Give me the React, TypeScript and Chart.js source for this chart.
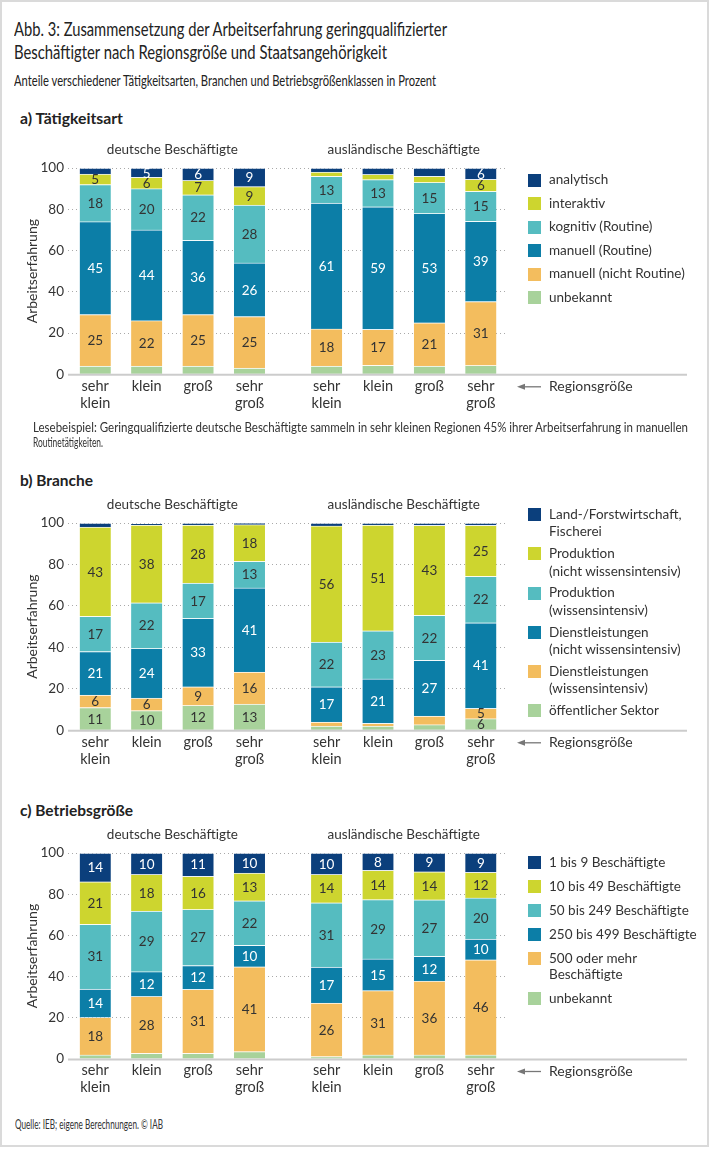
import React, { useEffect, useLayoutEffect, useRef } from "react";
import { Chart, registerables } from "chart.js";
Chart.register(...registerables);

const FONT = "Lato, 'Noto Sans', sans-serif";
const TEXT = "#333333";

// ---------- shared axis data ----------
const xPositions = [0, 1, 2, 3, 4.5, 5.5, 6.5, 7.5];
const regionLabels = [["sehr", "klein"], ["klein"], ["groß"], ["sehr", "groß"]];
const groupTitles = ["deutsche Beschäftigte", "ausländische Beschäftigte"];
const groupCenters = [1.5, 6];
const yTitle = "Arbeitserfahrung";
const axisNote = "Regionsgröße";

// ---------- palette ----------
const NAVY = "#0b3f7c";
const LIME = "#cdd52f";
const TURQ = "#55bcc0";
const BLUE = "#0c7ea7";
const ORANGE = "#f3bd5e";
const GREEN = "#a8d29b";

// ---------- panel a: Tätigkeitsart (bottom → top) ----------
const aSeries = [["unbekannt"], ["manuell (nicht Routine)"], ["manuell (Routine)"], ["kognitiv (Routine)"], ["interaktiv"], ["analytisch"]];
const aUnbekannt = [4, 4, 4, 3, 4, 4.4, 4, 4.3];
const aManuellNR = [25, 22, 25, 25, 18, 17.4, 21, 31];
const aManuellR = [45, 44, 36, 26, 61, 59.4, 53, 38.9];
const aKognitiv = [18, 20, 22, 28, 13, 13.2, 15, 14.5];
const aInteraktiv = [5, 5.5, 7, 9, 2, 2.5, 3, 5.8];
const aAnalytisch = [3, 4.5, 6, 9, 2, 3.1, 4, 5.5];

// ---------- panel b: Branche (bottom → top) ----------
const bSeries = [["öffentlicher Sektor"], ["Dienstleistungen", "(wissensintensiv)"], ["Dienstleistungen", "(nicht wissensintensiv)"], ["Produktion", "(wissensintensiv)"], ["Produktion", "(nicht wissensintensiv)"], ["Land-/Forstwirtschaft,", "Fischerei"]];
const bOeffentlich = [11, 9.5, 12, 12.6, 2, 2, 2.7, 5.6];
const bDienstWiss = [6, 6, 9, 15.5, 2, 1.4, 4.2, 5];
const bDienstNicht = [21, 24, 33, 40.6, 17, 21.4, 26.9, 41.3];
const bProdWiss = [17, 22, 17, 12.8, 21.6, 23.2, 21.7, 22.4];
const bProdNicht = [43, 37.5, 28, 17.7, 56, 51, 43.4, 24.6];
const bLandForst = [2, 0.7, 1, 0.8, 1.4, 1, 1.1, 1.1];

// ---------- panel c: Betriebsgröße (bottom → top) ----------
const cSeries = [["unbekannt"], ["500 oder mehr", "Beschäftigte"], ["250 bis 499 Beschäftigte"], ["50 bis 249 Beschäftigte"], ["10 bis 49 Beschäftigte"], ["1 bis 9 Beschäftigte"]];
const cUnbekannt = [2, 2.8, 2.8, 3.6, 1.2, 2, 2, 2];
const c500plus = [18.2, 27.6, 31, 41.2, 26, 31.2, 35.8, 46.2];
const c250to499 = [13.8, 12, 11.6, 10.4, 17.4, 15.4, 12.1, 10];
const c50to249 = [31.4, 29.4, 27.2, 21.6, 31.2, 28.8, 27.4, 20];
const c10to49 = [20.6, 17.8, 16.1, 13.4, 13.8, 14.2, 13.6, 12.4];
const c1to9 = [14, 10.4, 11.3, 9.8, 10.4, 8.4, 9.1, 9.4];

const stackColors = [GREEN, ORANGE, BLUE, TURQ, LIME, NAVY];
const whiteLabel = [false, false, true, false, false, true];

type PanelSpec = {
  heading: string;
  headingY: number;
  headingW: number;
  series: string[][];
  values: number[][];
  top100: number;
  bottom0: number;
  legendStart: number;
  legendLine: number;
  legendGap: number;
};

const panels: PanelSpec[] = [
  {
    heading: "a) Tätigkeitsart", headingY: 118.3, headingW: 103,
    series: aSeries,
    values: [aUnbekannt, aManuellNR, aManuellR, aKognitiv, aInteraktiv, aAnalytisch],
    top100: 167.7, bottom0: 374, legendStart: 180, legendLine: 17.5, legendGap: 6,
  },
  {
    heading: "b) Branche", headingY: 480, headingW: 73,
    series: bSeries,
    values: [bOeffentlich, bDienstWiss, bDienstNicht, bProdWiss, bProdNicht, bLandForst],
    top100: 522.7, bottom0: 730, legendStart: 514.5, legendLine: 17.5, legendGap: 4.3,
  },
  {
    heading: "c) Betriebsgröße", headingY: 810, headingW: 113,
    series: cSeries,
    values: [cUnbekannt, c500plus, c250to499, c50to249, c10to49, c1to9],
    top100: 853.3, bottom0: 1059.3, legendStart: 862, legendLine: 16, legendGap: 8,
  },
];

const CANVAS_W = 710;
const CANVAS_H = 284;
const PLOT_LEFT = 68;
const PLOT_RIGHT = 505;
const X_AXIS_H = 46;

function PanelChart({ spec }: { spec: PanelSpec }) {
  const ref = useRef<HTMLCanvasElement>(null);
  const canvasTop = spec.top100 - 28;
  useEffect(() => {
    const canvas = ref.current;
    if (!canvas) return;
    const font = { family: FONT, size: 13.5 };
    const datasets = spec.values.map((vals, i) => ({
      label: spec.series[i].join(" "),
      data: vals.map((v, j) => ({ x: xPositions[j], y: v })),
      backgroundColor: stackColors[i],
      borderColor: "rgba(255,255,255,0.45)",
      borderWidth: { top: 1, left: 0, right: 0, bottom: 0 },
      borderSkipped: false,
      barThickness: 31,
    }));
    const segLabels = {
      id: "segLabels",
      afterDatasetsDraw(chart: any) {
        const ctx = chart.ctx;
        ctx.save();
        ctx.font = `13.5px ${FONT}`;
        ctx.textAlign = "center";
        ctx.textBaseline = "middle";
        chart.data.datasets.forEach((ds: any, di: number) => {
          const meta = chart.getDatasetMeta(di);
          meta.data.forEach((el: any, i: number) => {
            const r = Math.round(ds.data[i].y);
            if (r < 5) return;
            const p = el.getProps(["x", "y", "base"], true);
            ctx.fillStyle = whiteLabel[di] ? "#ffffff" : TEXT;
            ctx.fillText(String(r), p.x, (p.y + p.base) / 2 + 0.5);
          });
        });
        ctx.restore();
      },
    };
    const decor = {
      id: "decor",
      afterDraw(chart: any) {
        const ctx = chart.ctx;
        const xs = chart.scales.x;
        const ys = chart.scales.y;
        const area = chart.chartArea;
        const y0 = ys.getPixelForValue(0);
        ctx.save();
        // baseline
        ctx.strokeStyle = "#cccccc";
        ctx.lineWidth = 2;
        ctx.beginPath();
        ctx.moveTo(area.left, y0 + 0.5);
        ctx.lineTo(687, y0 + 0.5);
        ctx.stroke();
        // group titles
        ctx.fillStyle = TEXT;
        ctx.font = `13.5px ${FONT}`;
        ctx.textAlign = "center";
        ctx.textBaseline = "middle";
        groupTitles.forEach((t, i) => {
          ctx.fillText(t, xs.getPixelForValue(groupCenters[i]), area.top - 18.5);
        });
        // arrow + note
        const ay = y0 + 12.5;
        ctx.strokeStyle = "#777777";
        ctx.fillStyle = "#777777";
        ctx.lineWidth = 1.3;
        ctx.beginPath();
        ctx.moveTo(523, ay);
        ctx.lineTo(541, ay);
        ctx.stroke();
        ctx.beginPath();
        ctx.moveTo(517, ay);
        ctx.lineTo(525, ay - 3);
        ctx.lineTo(525, ay + 3);
        ctx.closePath();
        ctx.fill();
        ctx.fillStyle = TEXT;
        ctx.textAlign = "left";
        ctx.font = `14px ${FONT}`;
        ctx.fillText(axisNote, 549, ay);
        ctx.restore();
      },
    };
    const bottomInCanvas = spec.bottom0 - canvasTop;
    const chart = new Chart(canvas, {
      type: "bar",
      data: { datasets: datasets as any },
      plugins: [segLabels, decor],
      options: {
        animation: false,
        responsive: false,
        devicePixelRatio: window.devicePixelRatio || 1,
        layout: {
          padding: {
            top: spec.top100 - canvasTop,
            left: 0,
            right: CANVAS_W - PLOT_RIGHT,
            bottom: CANVAS_H - bottomInCanvas - X_AXIS_H,
          },
        },
        plugins: { legend: { display: false }, tooltip: { enabled: false } },
        scales: {
          x: {
            type: "linear",
            min: -0.53,
            max: 7.97,
            stacked: true,
            offset: false,
            grid: { display: false, drawTicks: false },
            border: { display: false },
            afterBuildTicks: (s: any) => {
              s.ticks = xPositions.map((v) => ({ value: v }));
            },
            afterFit: (s: any) => {
              s.height = X_AXIS_H;
            },
            ticks: {
              autoSkip: false,
              maxRotation: 0,
              padding: 3,
              color: TEXT,
              font: { family: FONT, size: 14.5, lineHeight: 1.18 },
              callback: (_v: any, i: number) => regionLabels[i % 4],
            },
          },
          y: {
            min: 0,
            max: 100,
            stacked: true,
            afterFit: (s: any) => {
              s.width = PLOT_LEFT;
            },
            ticks: { stepSize: 20, padding: 4, color: TEXT, font },
            grid: {
              drawTicks: false,
              lineWidth: 1,
              color: (c: any) => (c.tick && c.tick.value === 0 ? "rgba(0,0,0,0)" : "#a9a9a9"),
            },
            border: { display: false, dash: [1, 3] },
            title: {
              display: true,
              text: yTitle,
              color: TEXT,
              font: { family: FONT, size: 14 },
              padding: { top: 24, bottom: 0 },
            },
          },
        },
      } as any,
    });
    return () => chart.destroy();
  }, [spec]);
  return (
    <canvas
      ref={ref}
      width={CANVAS_W}
      height={CANVAS_H}
      style={{ position: "absolute", left: 0, top: canvasTop, width: CANVAS_W, height: CANVAS_H }}
    />
  );
}

function FitText(props: { x: number; cy: number; lh: number; w: number; size: number; weight?: number; color?: string; children: React.ReactNode }) {
  const ref = useRef<HTMLSpanElement>(null);
  useLayoutEffect(() => {
    const el = ref.current;
    if (!el) return;
    el.style.transform = "none";
    const natural = el.getBoundingClientRect().width;
    if (natural > 0) el.style.transform = `scaleX(${props.w / natural})`;
  }, [props.w]);
  return (
    <span
      ref={ref}
      style={{
        position: "absolute",
        left: props.x,
        top: props.cy - props.lh / 2,
        fontSize: props.size,
        lineHeight: props.lh + "px",
        whiteSpace: "nowrap",
        transformOrigin: "0 0",
        fontFamily: FONT,
        fontWeight: props.weight || 400,
        color: props.color || TEXT,
      }}
    >
      {props.children}
    </span>
  );
}

function Legend({ spec }: { spec: PanelSpec }) {
  const items = spec.series.map((lines, i) => ({ lines, color: stackColors[i] })).reverse();
  return (
    <div
      style={{
        position: "absolute",
        left: 528,
        top: spec.legendStart - spec.legendLine / 2,
        display: "flex",
        flexDirection: "column",
        gap: spec.legendGap,
        fontFamily: FONT,
        fontSize: 13.5,
        color: TEXT,
      }}
    >
      {items.map((it, i) => (
        <div key={i} style={{ display: "flex", alignItems: "flex-start" }}>
          <div
            style={{
              width: 13,
              height: 13,
              background: it.color,
              marginTop: (spec.legendLine - 13) / 2,
              marginRight: 8,
              flex: "none",
            }}
          />
          <div style={{ lineHeight: spec.legendLine + "px", whiteSpace: "nowrap" }}>
            {it.lines.map((l, k) => (
              <div key={k}>{l}</div>
            ))}
          </div>
        </div>
      ))}
    </div>
  );
}

export default function App() {
  useLayoutEffect(() => {
    document.body.style.margin = "0";
    document.body.style.background = "#ffffff";
  }, []);
  return (
    <div style={{ position: "relative", width: 710, height: 1149, background: "#ffffff", overflow: "hidden" }}>
      <div
        style={{
          position: "absolute",
          left: 0,
          top: 0,
          width: 709,
          height: 1147,
          boxSizing: "border-box",
          border: "2px solid #dadada",
        }}
      />
      <FitText x={14} cy={29} lh={24} w={433} size={19.5} color="#222">
        Abb. 3: Zusammensetzung der Arbeitserfahrung geringqualifizierter
      </FitText>
      <FitText x={14} cy={52.3} lh={24} w={373} size={19.5} color="#222">
        Beschäftigter nach Regionsgröße und Staatsangehörigkeit
      </FitText>
      <FitText x={14} cy={80} lh={18} w={422} size={15} color="#222">
        Anteile verschiedener Tätigkeitsarten, Branchen und Betriebsgrößenklassen in Prozent
      </FitText>
      {panels.map((p, i) => (
        <React.Fragment key={i}>
          <FitText x={20} cy={p.headingY} lh={18} w={p.headingW} size={15} weight={700} color="#222">
            {p.heading}
          </FitText>
          <PanelChart spec={p} />
          <Legend spec={p} />
        </React.Fragment>
      ))}
      <FitText x={33} cy={427} lh={15} w={655} size={12.5}>
        Lesebeispiel: Geringqualifizierte deutsche Beschäftigte sammeln in sehr kleinen Regionen 45% ihrer Arbeitserfahrung in manuellen
      </FitText>
      <FitText x={33} cy={442} lh={15} w={70} size={12.5}>
        Routinetätigkeiten.
      </FitText>
      <FitText x={15} cy={1124} lh={15} w={148} size={12.5}>
        Quelle: IEB; eigene Berechnungen. © IAB
      </FitText>
    </div>
  );
}
